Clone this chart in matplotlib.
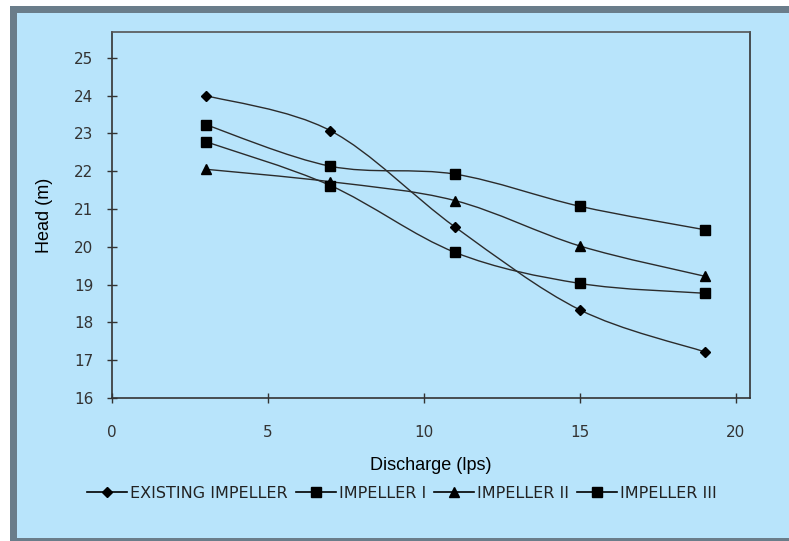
import matplotlib
matplotlib.use('Agg')
import matplotlib.pyplot as plt
from matplotlib.path import Path
from matplotlib.patches import PathPatch, Rectangle
from matplotlib.lines import Line2D

# dados
descarga = [3, 7, 11, 15, 19]
existente = [24.0, 23.07, 20.52, 18.33, 17.22]
impulsor_1 = [23.23, 22.13, 21.92, 21.07, 20.45]
impulsor_2 = [22.05, 21.72, 21.22, 20.02, 19.22]
impulsor_3 = [22.78, 21.62, 19.85, 19.03, 18.77]

nomes = ['EXISTING IMPELLER', 'IMPELLER I', 'IMPELLER II', 'IMPELLER III']
marcadores = ['D', 's', '^', 's']
tamanhos = [5, 7.5, 6.5, 7.5]
series = [existente, impulsor_1, impulsor_2, impulsor_3]

azul = '#b8e4fb'
cinza = '#6a7d8a'
linha = '#2b2b2b'

plt.rcParams['font.family'] = ['Liberation Sans Narrow', 'DejaVu Sans']


def curva_suave(x, y):
    # curva tipo Excel (Catmull-Rom convertido para Bezier)
    pts = list(zip(x, y))
    verts = [pts[0]]
    codes = [Path.MOVETO]
    n = len(pts)
    for i in range(n - 1):
        p0 = pts[i - 1] if i > 0 else pts[i]
        p1 = pts[i]
        p2 = pts[i + 1]
        p3 = pts[i + 2] if i + 2 < n else pts[i + 1]
        c1 = (p1[0] + (p2[0] - p0[0]) / 6, p1[1] + (p2[1] - p0[1]) / 6)
        c2 = (p2[0] - (p3[0] - p1[0]) / 6, p2[1] - (p3[1] - p1[1]) / 6)
        verts += [c1, c2, p2]
        codes += [Path.CURVE4] * 3
    return Path(verts, codes)


fig = plt.figure(figsize=(7.89, 5.41), dpi=100)
fig.patch.set_facecolor('white')

# moldura externa
W, H = 789, 541
fig.patches.append(Rectangle((10 / W, 0), 1, 1 - 6 / H, transform=fig.transFigure,
                             facecolor=cinza, edgecolor='none', zorder=-3))
fig.patches.append(Rectangle((17 / W, 3 / H), 1, 1 - 13 / H - 3 / H, transform=fig.transFigure,
                             facecolor=azul, edgecolor='none', zorder=-2))

ax = fig.add_axes([112 / W, (H - 398) / H, (750 - 112) / W, (398 - 32) / H])
ax.set_facecolor(azul)

for ys, m, ms, nome in zip(series, marcadores, tamanhos, nomes):
    ax.add_patch(PathPatch(curva_suave(descarga, ys), facecolor='none',
                           edgecolor=linha, linewidth=1.0, zorder=2))
    ax.plot(descarga, ys, linestyle='none', marker=m, markersize=ms,
            color='black', zorder=3)

ax.set_xlim(0, 20.45)
ax.set_ylim(16, 25.68)
ax.set_xticks([0, 5, 10, 15, 20])
ax.set_yticks(range(16, 26))

for s in ax.spines.values():
    s.set_color('#333333')
    s.set_linewidth(1.2)
ax.spines['top'].set_color('#555555')

ax.tick_params(axis='both', direction='inout', length=7, width=1, color='#333333',
               labelsize=11, labelcolor='#333333')
ax.tick_params(axis='y', pad=10)
ax.tick_params(axis='x', pad=16)

ax.set_xlabel('Discharge (lps)', fontsize=13, family=['Liberation Sans', 'DejaVu Sans'],
              labelpad=12)
ax.set_ylabel('Head (m)', fontsize=13, family=['Liberation Sans', 'DejaVu Sans'],
              labelpad=15)

alcas = [Line2D([], [], color='black', linewidth=1.2, marker=m, markersize=ms)
         for m, ms in zip(marcadores, tamanhos)]
fig.legend(alcas, nomes, loc='center', bbox_to_anchor=(402 / W, 1 - 493 / H),
           ncol=4, frameon=False, fontsize=11.5, handlelength=2.5,
           handletextpad=0.2, columnspacing=0.5, labelcolor='#222222')

fig.savefig('out.png', dpi=100, facecolor=fig.get_facecolor())
